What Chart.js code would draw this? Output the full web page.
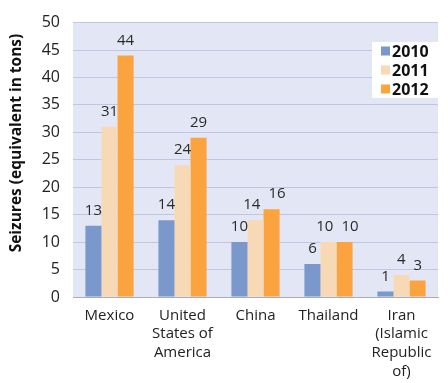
<!DOCTYPE html>
<html><head><meta charset="utf-8">
<script src="https://cdn.jsdelivr.net/npm/chart.js@4/dist/chart.umd.min.js"></script>
<style>html,body{margin:0;padding:0;background:#fff;}#wrap{width:448px;height:383px;}</style>
</head><body><div id="wrap"><canvas id="c" width="448" height="383"></canvas></div>
<script>
const categories = [["Mexico"], ["United", "States of", "America"], ["China"], ["Thailand"], ["Iran", "(Islamic", "Republic", "of)"]];
const years = ["2010", "2011", "2012"];
const values2010 = [13, 14, 10, 6, 1];
const values2011 = [31, 24, 14, 10, 4];
const values2012 = [44, 29, 16, 10, 3];
const yTicks = [0, 5, 10, 15, 20, 25, 30, 35, 40, 45, 50];
const yTitle = "Seizures (equivalent in tons)";
const colors = ["#7b98cc", "#f8d9b5", "#fba43f"];

const FONT = "'Open Sans', 'Noto Sans', sans-serif";

const bgPlugin = {
  id: 'bg',
  beforeDraw(chart) {
    const a = chart.chartArea, ctx = chart.ctx;
    ctx.save();
    ctx.fillStyle = '#e3e7f5';
    ctx.fillRect(a.left, a.top, a.right - a.left, a.bottom - a.top);
    ctx.restore();
  }
};

const labelPlugin = {
  id: 'vals',
  afterDatasetsDraw(chart) {
    const ctx = chart.ctx;
    ctx.save();
    ctx.font = "15px " + FONT;
    ctx.fillStyle = '#2a2a2a';
    ctx.textAlign = 'center';
    ctx.textBaseline = 'alphabetic';
    const n = chart.data.labels.length;
    for (let j = 0; j < n; j++) {
      const items = chart.data.datasets.map((ds, i) => {
        const bar = chart.getDatasetMeta(i).data[j];
        const txt = String(ds.data[j]);
        return { txt, x: bar.x, y: bar.y - 11, w: ctx.measureText(txt).width };
      });
      // push apart labels that collide (same height, overlapping)
      for (let k = 0; k < items.length - 1; k++) {
        const a = items[k], b = items[k + 1];
        const gap = 8;
        if (Math.abs(a.y - b.y) < 11) {
          const need = (a.w + b.w) / 2 + gap - (b.x - a.x);
          if (need > 0) { a.x -= need * 0.4; b.x += need * 0.6; }
        }
      }
      items.forEach(it => ctx.fillText(it.txt, it.x, it.y));
    }
    ctx.restore();
  }
};

const legendPlugin = {
  id: 'boxLegend',
  afterDraw(chart) {
    const ctx = chart.ctx;
    ctx.save();
    ctx.fillStyle = '#ffffff';
    ctx.fillRect(372, 42, 66, 56);
    ctx.font = "bold 16px " + FONT;
    ctx.textBaseline = 'middle';
    ctx.textAlign = 'left';
    chart.data.datasets.forEach((ds, i) => {
      const cy = 51 + i * 19;
      ctx.fillStyle = ds.backgroundColor;
      ctx.fillRect(381, cy - 4.5, 9, 9);
      ctx.fillStyle = '#111111';
      ctx.fillText(ds.label, 392, cy + 1);
    });
    ctx.restore();
  }
};

const titlePlugin = {
  id: 'yTitle',
  afterDraw(chart) {
    const ctx = chart.ctx;
    ctx.save();
    ctx.translate(17, 143);
    ctx.rotate(-Math.PI / 2);
    ctx.font = "bold 15.5px " + FONT;
    ctx.fillStyle = '#111111';
    ctx.textAlign = 'center';
    ctx.textBaseline = 'middle';
    ctx.fillText(yTitle, 0, 0);
    ctx.restore();
  }
};

new Chart(document.getElementById('c'), {
  type: 'bar',
  data: {
    labels: categories,
    datasets: [
      { label: years[0], data: values2010, backgroundColor: colors[0] },
      { label: years[1], data: values2011, backgroundColor: colors[1] },
      { label: years[2], data: values2012, backgroundColor: colors[2] }
    ]
  },
  options: {
    responsive: false,
    animation: false,
    devicePixelRatio: 1,
    layout: { padding: { left: 0, right: 10, top: 14, bottom: 0 } },
    plugins: { legend: { display: false }, tooltip: { enabled: false } },
    datasets: { bar: { categoryPercentage: 0.66, barPercentage: 1.0, borderWidth: 0 } },
    scales: {
      x: {
        grid: { display: false, drawTicks: false },
        border: { color: '#a9adbb', width: 1 },
        ticks: { color: '#222222', font: { family: FONT, size: 15, lineHeight: 1.25 }, padding: 9, maxRotation: 0, autoSkip: false },
        afterFit(s) { s.height = 86; }
      },
      y: {
        min: 0, max: 50,
        afterBuildTicks(s) { s.ticks = yTicks.map(v => ({ value: v })); },
        grid: { color: '#c0c6e0', drawTicks: false },
        border: { display: false },
        ticks: { color: '#222222', font: { family: FONT, size: 16 }, padding: 13 },
        afterFit(s) { s.width = 73; }
      }
    }
  },
  plugins: [bgPlugin, labelPlugin, legendPlugin, titlePlugin]
});
</script>
</body></html>
